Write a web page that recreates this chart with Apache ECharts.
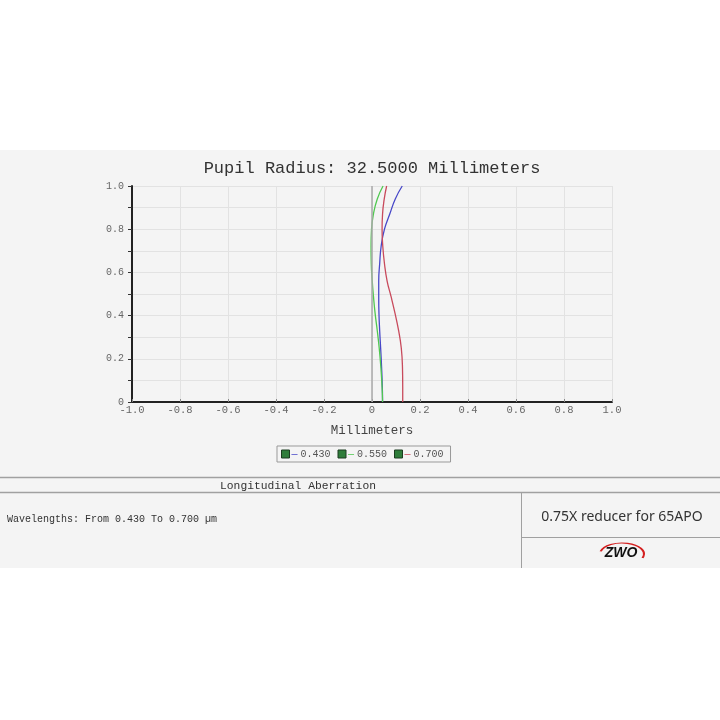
<!DOCTYPE html>
<html>
<head>
<meta charset="utf-8">
<script src="https://cdn.jsdelivr.net/npm/echarts@6/dist/echarts.min.js"></script>
<style>
html,body{margin:0;padding:0;}
body{background:linear-gradient(to bottom,#ffffff 0px,#ffffff 150px,#f4f4f4 150px,#f4f4f4 568px,#ffffff 568px);}
#chart{width:720px;height:720px;}
</style>
</head>
<body>
<div id="chart"></div>
<script>
// Relative pupil height (y) and longitudinal aberration in mm (x) for each wavelength
const pupil = [0, 0.07, 0.16, 0.25, 0.33, 0.41, 0.49, 0.56, 0.64, 0.72, 0.80, 0.87, 0.94, 1.0];
const ab430 = [0.044, 0.043, 0.040, 0.036, 0.032, 0.029, 0.028, 0.028, 0.032, 0.038, 0.052, 0.074, 0.097, 0.126];
const ab550 = [0.044, 0.042, 0.037, 0.030, 0.022, 0.013, 0.006, 0.001, -0.003, -0.004, -0.002, 0.006, 0.022, 0.046];
const ab700 = [0.128, 0.128, 0.127, 0.122, 0.111, 0.096, 0.079, 0.063, 0.052, 0.045, 0.042, 0.044, 0.051, 0.061];
const names = ['0.430', '0.550', '0.700'];
const colors = ['#4848c8', '#50c850', '#c84a5c'];

const mono = '"Liberation Mono", "DejaVu Sans Mono", monospace';
const seriesData = [ab430, ab550, ab700].map(arr => arr.map((x, i) => [x, pupil[i]]));

const chart = echarts.init(document.getElementById('chart'));
const fmt = v => (Math.abs(v) < 1e-9 ? '0' : v.toFixed(1));

chart.setOption({
  animation: false,
  title: {
    text: 'Pupil Radius: 32.5000 Millimeters',
    left: 372, top: 160, textAlign: 'center', padding: 0,
    textStyle: {fontFamily: mono, fontSize: 17, fontWeight: 'normal', color: '#333'}
  },
  grid: {left: 132, right: 108, top: 186, bottom: 318, containLabel: false},
  xAxis: {
    type: 'value', min: -1, max: 1, interval: 0.2,
    name: 'Millimeters', nameLocation: 'middle', nameGap: 22,
    nameTextStyle: {fontFamily: mono, fontSize: 12.5, color: '#444'},
    axisLine: {show: true, onZero: false, lineStyle: {color: '#222', width: 2}},
    axisTick: {show: true, inside: true, length: 3, lineStyle: {color: '#888'}},
    axisLabel: {fontFamily: mono, fontSize: 10.5, color: '#666', margin: 3, formatter: fmt},
    splitLine: {show: true, lineStyle: {color: '#e2e2e2', width: 1}}
  },
  yAxis: {
    type: 'value', min: 0, max: 1, interval: 0.1,
    axisLine: {show: true, onZero: false, lineStyle: {color: '#222', width: 2}},
    axisTick: {show: true, length: 4, lineStyle: {color: '#333'}},
    axisLabel: {
      fontFamily: mono, fontSize: 10, color: '#666', margin: 8,
      formatter: v => (Math.round(v * 10) % 2 === 0 ? fmt(v) : '')
    },
    splitLine: {show: true, lineStyle: {color: '#e2e2e2', width: 1}}
  },
  legend: {
    left: 277, top: 446, orient: 'horizontal',
    data: names,
    icon: 'rect', itemWidth: 8, itemHeight: 8, itemGap: 7,
    borderColor: '#999', borderWidth: 1, padding: [3, 7, 3, 4],
    itemStyle: {color: '#2f7d3a', borderColor: '#1d3d20', borderWidth: 1},
    formatter: name => '{c' + names.indexOf(name) + '|—}' + name,
    textStyle: {
      fontFamily: mono, fontSize: 10, color: '#555', padding: [0, 0, 0, -3],
      rich: {
        c0: {color: colors[0], fontSize: 10, fontFamily: mono, padding: [0, 3, 0, 0]},
        c1: {color: colors[1], fontSize: 10, fontFamily: mono, padding: [0, 3, 0, 0]},
        c2: {color: colors[2], fontSize: 10, fontFamily: mono, padding: [0, 3, 0, 0]}
      }
    }
  },
  series: names.map((n, i) => ({
    name: n, type: 'line', data: seriesData[i],
    smooth: true, symbol: 'none', showSymbol: false,
    lineStyle: {color: colors[i], width: 1.3},
    itemStyle: {color: colors[i]},
    z: 3 + i,
    markLine: i === 0 ? {
      silent: true, symbol: 'none', label: {show: false},
      lineStyle: {color: '#aaaaaa', width: 1.5, type: 'solid'},
      data: [{xAxis: 0}]
    } : undefined
  })),
  graphic: [
    {type: 'line', shape: {x1: 0, y1: 477.5, x2: 720, y2: 477.5}, style: {stroke: '#a0a0a0', lineWidth: 1.5}},
    {type: 'line', shape: {x1: 0, y1: 492.5, x2: 720, y2: 492.5}, style: {stroke: '#a0a0a0', lineWidth: 1.5}},
    {type: 'line', shape: {x1: 521.5, y1: 492.5, x2: 521.5, y2: 568}, style: {stroke: '#a0a0a0', lineWidth: 1}},
    {type: 'line', shape: {x1: 521.5, y1: 537.5, x2: 720, y2: 537.5}, style: {stroke: '#a0a0a0', lineWidth: 1}},
    {type: 'text', x: 298, y: 486, style: {text: 'Longitudinal Aberration', font: '11.3px ' + mono, fill: '#333', textAlign: 'center', textVerticalAlign: 'middle'}},
    {type: 'text', x: 7, y: 519, style: {text: 'Wavelengths: From 0.430 To 0.700 µm', font: '10px ' + mono, fill: '#333', textAlign: 'left', textVerticalAlign: 'middle'}},
    {type: 'text', x: 622, y: 517, style: {text: '0.75X reducer for 65APO', font: '14px "Noto Sans", sans-serif', fill: '#333', textAlign: 'center', textVerticalAlign: 'middle'}},
    {type: 'arc', x: 622, y: 554, scaleY: 0.5, shape: {cx: 0, cy: 0, r: 22, startAngle: -Math.PI * 0.92, endAngle: Math.PI * 0.12, clockwise: true}, style: {stroke: '#d42020', lineWidth: 2.2, fill: 'none'}},
    {type: 'text', x: 621, y: 553, style: {text: 'ZWO', font: 'italic 900 14px "Liberation Sans", sans-serif', fill: '#111', textAlign: 'center', textVerticalAlign: 'middle'}}
  ]
});
</script>
</body>
</html>
